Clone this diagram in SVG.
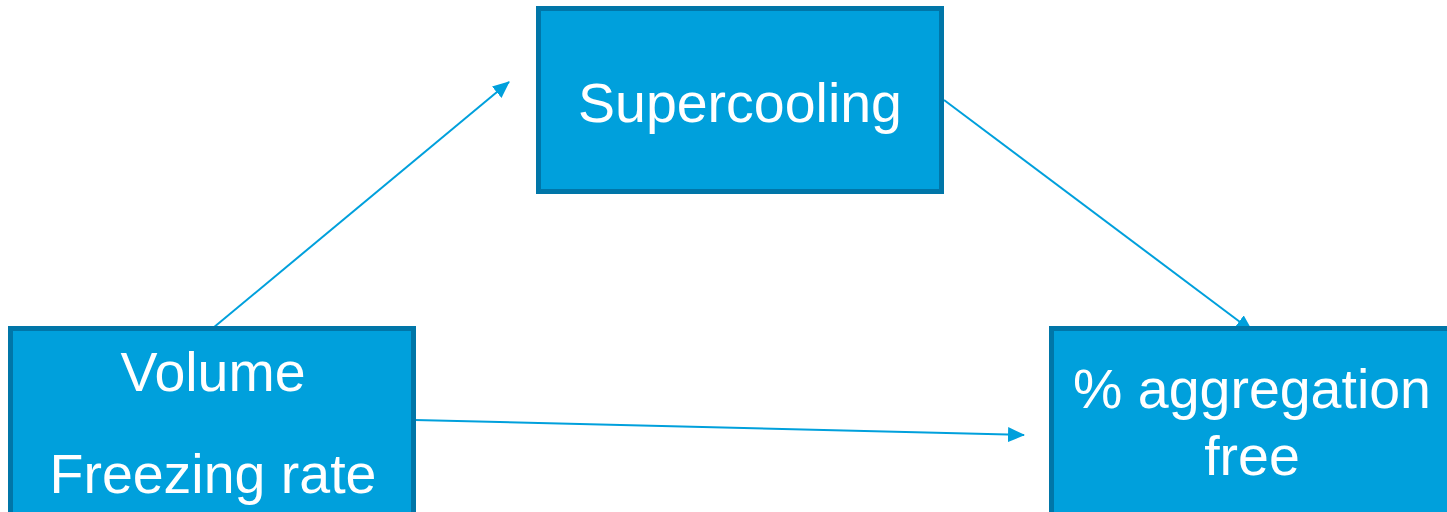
<svg xmlns="http://www.w3.org/2000/svg" width="1447" height="512" viewBox="0 0 1447 512">
<defs>
<style>
.box{fill:#00a0dc;stroke:#0076a8;stroke-width:5}
.lbl{font-family:"Liberation Sans",Arial,sans-serif;font-size:55.5px;fill:#ffffff;text-anchor:middle}
.conn{stroke:#00a0dc;stroke-width:2;fill:none;marker-end:url(#ah)}
</style>
<marker id="ah" viewBox="0 0 17 15" refX="16" refY="7.5" markerWidth="17" markerHeight="15" markerUnits="userSpaceOnUse" orient="auto">
<path d="M0,0 L17,7.5 L0,15 z" fill="#00a0dc"/>
</marker>
</defs>
<g id="connectors">
<line class="conn" x1="213" y1="328" x2="509" y2="82"/>
<line class="conn" x1="944" y1="100" x2="1252" y2="331"/>
<line class="conn" x1="415" y1="420" x2="1024" y2="435"/>
</g>
<g id="supercooling">
<rect class="box" x="538.5" y="8.5" width="403" height="183"/>
<text class="lbl" x="740" y="122">Supercooling</text>
</g>
<g id="volume">
<rect class="box" x="10.5" y="328.5" width="403" height="200"/>
<text class="lbl" x="213" y="391">Volume</text>
<text class="lbl" x="213" y="493">Freezing rate</text>
</g>
<g id="aggregation">
<rect class="box" x="1051.5" y="328.5" width="410" height="200"/>
<text class="lbl" x="1252" y="408">% aggregation</text>
<text class="lbl" x="1252" y="475">free</text>
</g>
</svg>
